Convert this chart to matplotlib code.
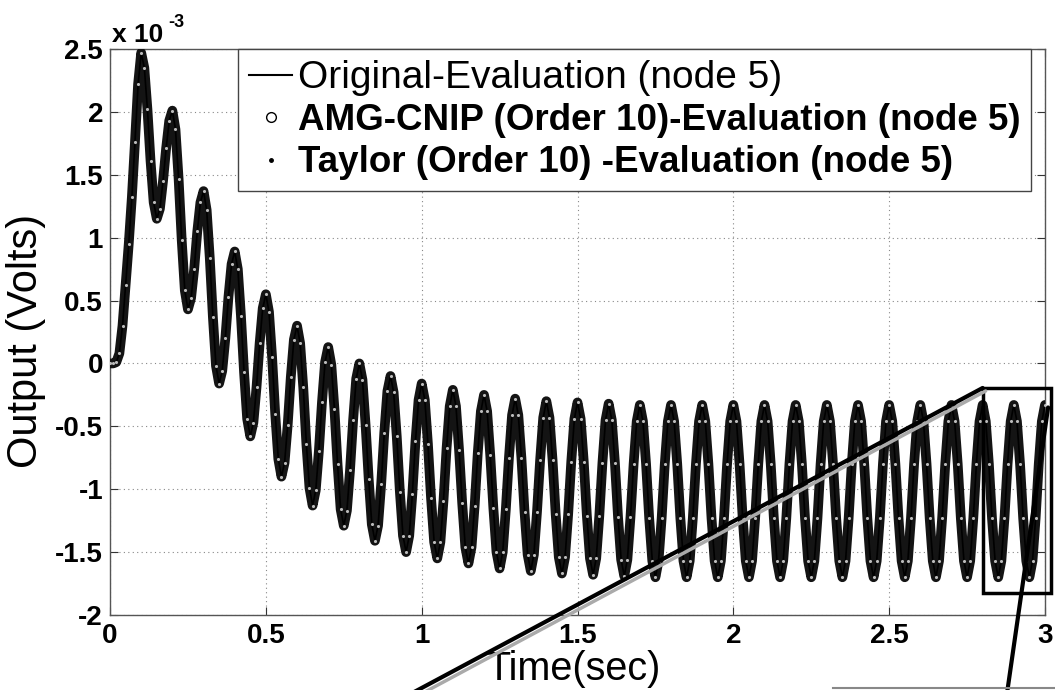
import numpy as np
import matplotlib
matplotlib.use("Agg")
import matplotlib.pyplot as plt
from matplotlib.lines import Line2D
from matplotlib.patches import Rectangle, ConnectionPatch
from matplotlib.transforms import offset_copy
from matplotlib.ticker import FuncFormatter

plt.rcParams["font.family"] = ["Liberation Sans", "DejaVu Sans"]

# sample times (s), 0.01 s step from 0 to 3 s
time_s = np.round(np.arange(301) * 0.01, 2)

# node 5 output (x 1e-3 V), one row per 0.1 s
volts = [
    0.00, 0.00, 0.01, 0.08, 0.30, 0.62, 0.95, 1.32, 1.76, 2.22,
    2.47, 2.35, 2.02, 1.61, 1.28, 1.15, 1.23, 1.45, 1.71, 1.93,
    2.01, 1.86, 1.47, 0.98, 0.58, 0.43, 0.52, 0.75, 1.05, 1.28,
    1.37, 1.22, 0.84, 0.37, -0.02, -0.16, -0.06, 0.20, 0.53, 0.79,
    0.89, 0.75, 0.38, -0.07, -0.44, -0.58, -0.47, -0.19, 0.16, 0.44,
    0.55, 0.41, 0.05, -0.40, -0.76, -0.90, -0.79, -0.49, -0.11, 0.19,
    0.30, 0.16, -0.19, -0.64, -0.99, -1.13, -1.01, -0.70, -0.31, 0.01,
    0.13, -0.01, -0.36, -0.80, -1.16, -1.29, -1.17, -0.85, -0.45, -0.12,
    0.00, -0.13, -0.49, -0.92, -1.28, -1.41, -1.29, -0.96, -0.55, -0.22,
    -0.10, -0.23, -0.58, -1.02, -1.37, -1.50, -1.37, -1.04, -0.62, -0.29,
    -0.16, -0.29, -0.64, -1.07, -1.42, -1.55, -1.42, -1.09, -0.67, -0.34,
    -0.21, -0.34, -0.69, -1.11, -1.46, -1.59, -1.46, -1.13, -0.71, -0.38,
    -0.25, -0.38, -0.73, -1.15, -1.50, -1.63, -1.50, -1.16, -0.75, -0.41,
    -0.28, -0.41, -0.75, -1.18, -1.52, -1.65, -1.52, -1.18, -0.77, -0.43,
    -0.30, -0.43, -0.77, -1.20, -1.54, -1.67, -1.54, -1.20, -0.78, -0.44,
    -0.31, -0.44, -0.78, -1.21, -1.55, -1.68, -1.55, -1.21, -0.79, -0.45,
    -0.32, -0.45, -0.79, -1.22, -1.56, -1.69, -1.56, -1.22, -0.80, -0.46,
    -0.33, -0.46, -0.80, -1.23, -1.57, -1.70, -1.57, -1.23, -0.80, -0.46,
    -0.33, -0.46, -0.80, -1.23, -1.57, -1.70, -1.57, -1.23, -0.80, -0.46,
    -0.33, -0.46, -0.80, -1.23, -1.57, -1.70, -1.57, -1.23, -0.80, -0.46,
    -0.33, -0.46, -0.80, -1.23, -1.57, -1.70, -1.57, -1.23, -0.80, -0.46,
    -0.33, -0.46, -0.80, -1.23, -1.57, -1.70, -1.57, -1.23, -0.80, -0.46,
    -0.33, -0.46, -0.80, -1.23, -1.57, -1.70, -1.57, -1.23, -0.80, -0.46,
    -0.33, -0.46, -0.80, -1.23, -1.57, -1.70, -1.57, -1.23, -0.80, -0.46,
    -0.33, -0.46, -0.80, -1.23, -1.57, -1.70, -1.57, -1.23, -0.80, -0.46,
    -0.33, -0.46, -0.80, -1.23, -1.57, -1.70, -1.57, -1.23, -0.80, -0.46,
    -0.33, -0.46, -0.80, -1.23, -1.57, -1.70, -1.57, -1.23, -0.80, -0.46,
    -0.33, -0.46, -0.80, -1.23, -1.57, -1.70, -1.57, -1.23, -0.80, -0.46,
    -0.33, -0.46, -0.80, -1.23, -1.57, -1.70, -1.57, -1.23, -0.80, -0.46,
    -0.33, -0.46, -0.80, -1.23, -1.57, -1.70, -1.57, -1.23, -0.80, -0.46,
    -0.33,
]
# the three evaluations lie on top of each other
volts_original = volts
volts_amg = volts
volts_taylor = volts

legend_labels = [
    "Original-Evaluation (node 5)",
    "AMG-CNIP (Order 10)-Evaluation (node 5)",
    "Taylor (Order 10) -Evaluation (node 5)",
]
x_ticks = [0, 0.5, 1, 1.5, 2, 2.5, 3]
y_ticks = [-2, -1.5, -1, -0.5, 0, 0.5, 1, 1.5, 2, 2.5]

fig = plt.figure(figsize=(10.55, 6.9), dpi=100)
ax = fig.add_axes([0.1043, 0.1087, 0.8862, 0.8203])

ax.plot(time_s, volts_amg, color="#141414", lw=7, solid_capstyle="round",
        solid_joinstyle="round", zorder=3)
ax.plot(time_s, volts_original, color="black", lw=1.2, zorder=4)
ax.plot(time_s, volts_taylor, ls="none", marker=".", ms=2.5, color="#bbbbbb", zorder=5)

ax.set_xlim(0, 3)
ax.set_ylim(-2, 2.5)
ax.set_xticks(x_ticks)
ax.set_yticks(y_ticks)
fmt = FuncFormatter(lambda v, p: "%g" % v)
ax.xaxis.set_major_formatter(fmt)
ax.yaxis.set_major_formatter(fmt)
ax.tick_params(direction="in", length=6, width=0.8, top=True, right=True,
               labelsize=20, colors="#333333", labelcolor="black")
ax.tick_params(axis="x", pad=6)
ax.tick_params(axis="y", pad=5)
for lab in ax.get_xticklabels() + ax.get_yticklabels():
    lab.set_fontweight("bold")
for s in ax.spines.values():
    s.set_color("#555555")
    s.set_linewidth(1.0)
ax.grid(True, color="#888888", lw=0.8, ls=(0, (1, 3)))

ax.set_xlabel("Time(sec)", fontsize=28.5)
ax.set_ylabel("Output (Volts)", fontsize=30)
ax.xaxis.set_label_coords(0.496, -0.062)
ax.yaxis.set_label_coords(-0.068, 0.485)

ax.text(0.002, 1.012, "x 10", transform=ax.transAxes, fontsize=19,
        fontweight="bold", va="baseline", ha="left")
ax.text(0.062, 1.038, "-3", transform=ax.transAxes, fontsize=13,
        fontweight="bold", va="baseline", ha="left")

handles = [
    Line2D([], [], color="black", lw=1.5),
    Line2D([], [], ls="none", marker="o", ms=7, mfc="white", mec="black", mew=1.0),
    Line2D([], [], ls="none", marker=".", ms=5, color="black"),
]
leg = ax.legend(handles, legend_labels, loc="upper left", bbox_to_anchor=(0.137, 1.0),
                fontsize=26, frameon=True, fancybox=False, framealpha=1,
                edgecolor="#444444", handlelength=1.2, handletextpad=0.15,
                borderpad=0.3, labelspacing=0.2, borderaxespad=0)
leg.get_frame().set_linewidth(1.0)
leg.set_zorder(10)
texts = leg.get_texts()
texts[0].set_fontsize(28)
for t in texts[1:]:
    t.set_fontweight("bold")
    t.set_fontsize(26.5)

# zoom box and connector lines
ax.add_patch(Rectangle((2.8, -1.825), 0.22, 1.63, fill=False, ec="black",
                       lw=2.5, clip_on=False, zorder=8))
shadow = offset_copy(ax.transData, fig=fig, x=3, y=-3, units="dots")
fig.add_artist(ConnectionPatch((2.8, -0.195), (0.394, -0.01), coordsA=shadow,
                               coordsB=fig.transFigure, color="#aaaaaa", lw=2.5))
fig.add_artist(ConnectionPatch((2.8, -0.195), (0.390, -0.005), coordsA=ax.transData,
                               coordsB=fig.transFigure, color="black", lw=3))
fig.add_artist(ConnectionPatch((3.01, -0.35), (0.9545, -0.005), coordsA=ax.transData,
                               coordsB=fig.transFigure, color="black", lw=3))
fig.add_artist(Line2D([0.79, 1.0], [0.003, 0.003], transform=fig.transFigure,
                      color="#888888", lw=1.5))

fig.savefig("out.png", dpi=100)
